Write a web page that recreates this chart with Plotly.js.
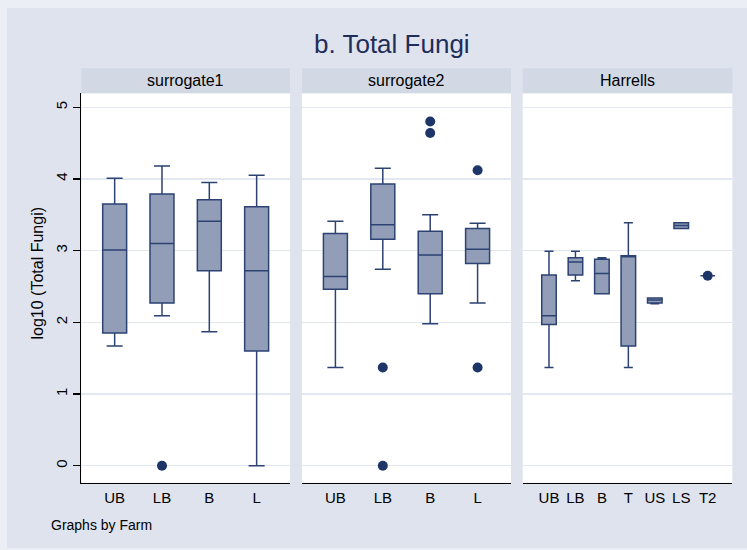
<!DOCTYPE html>
<html>
<head>
<meta charset="utf-8">
<script src="https://cdn.plot.ly/plotly-3.0.1.min.js"></script>
<style>
  html, body { margin: 0; padding: 0; background: #ebeef5; }
  #chart { width: 747px; height: 550px; }
</style>
</head>
<body>
<div id="chart"></div>
<script>
// Farms (one panel each) and the sample sites within them
const farms = ['surrogate1', 'surrogate2', 'Harrells'];
const sites4 = ['UB', 'LB', 'B', 'L'];
const sitesHarrells = ['UB', 'LB', 'B', 'T', 'US', 'LS', 'T2'];

// Box statistics, log10(Total Fungi)
const s1Low = [1.67, 2.09, 1.87, 0.00];
const s1Q1  = [1.85, 2.27, 2.72, 1.60];
const s1Med = [3.01, 3.10, 3.41, 2.72];
const s1Q3  = [3.65, 3.79, 3.71, 3.61];
const s1High = [4.01, 4.18, 3.95, 4.05];
const s1OutX = ['LB'];
const s1OutY = [0.00];

const s2Low = [1.37, 2.74, 1.98, 2.27];
const s2Q1  = [2.46, 3.16, 2.40, 2.82];
const s2Med = [2.64, 3.36, 2.94, 3.02];
const s2Q3  = [3.24, 3.93, 3.27, 3.31];
const s2High = [3.41, 4.15, 3.50, 3.38];
const s2OutX = ['LB', 'LB', 'B', 'B', 'L', 'L'];
const s2OutY = [1.37, 0.00, 4.80, 4.64, 4.12, 1.37];

const hLow = [1.37, 2.58, 2.40, 1.37, 2.26, 3.31, 2.65];
const hQ1  = [1.97, 2.66, 2.40, 1.67, 2.27, 3.31, 2.65];
const hMed = [2.09, 2.84, 2.68, 2.93, 2.31, 3.35, 2.65];
const hQ3  = [2.66, 2.90, 2.88, 2.93, 2.34, 3.39, 2.65];
const hHigh = [2.99, 2.99, 2.90, 3.39, 2.34, 3.39, 2.65];
const hOutX = ['T2'];
const hOutY = [2.65];

const yTicks = [0, 1, 2, 3, 4, 5];

// Styling
const W = 747, H = 550;
const FONT = 'Liberation Sans, Arial, Helvetica, sans-serif';
const boxFill = '#929eb7';
const boxLine = '#2c4273';
const dotColor = '#1d3667';
const gridColor = '#e2e7f0';

// Pixel layout of the three panels
const panelX = [[81.3, 290], [302, 511], [522.7, 732.3]];
const plotTop = 93.3, plotBottom = 482.7, stripTop = 68.3;
const px = v => v / W;
const py = v => 1 - v / H;

function boxTrace(xa, ya, cats, lo, q1, med, q3, hi, width, ww) {
  return {
    type: 'box', xaxis: xa, yaxis: ya,
    x: cats, lowerfence: lo, q1: q1, median: med, q3: q3, upperfence: hi,
    boxpoints: false, width: width, whiskerwidth: ww,
    fillcolor: boxFill, line: { color: boxLine, width: 1.5 },
    hoverinfo: 'skip'
  };
}
function dots(xa, ya, xs, ys) {
  return {
    type: 'scatter', mode: 'markers', xaxis: xa, yaxis: ya,
    x: xs, y: ys, marker: { color: dotColor, size: 10 },
    hoverinfo: 'skip', cliponaxis: false
  };
}

const data = [
  boxTrace('x', 'y', sites4, s1Low, s1Q1, s1Med, s1Q3, s1High, 0.506, 0.67),
  dots('x', 'y', s1OutX, s1OutY),
  boxTrace('x2', 'y2', sites4, s2Low, s2Q1, s2Med, s2Q3, s2High, 0.506, 0.67),
  dots('x2', 'y2', s2OutX, s2OutY),
  boxTrace('x3', 'y3', sitesHarrells, hLow, hQ1, hMed, hQ3, hHigh, 0.55, 0.62),
  dots('x3', 'y3', hOutX, hOutY)
];

function xAxis(i, cats, range) {
  return {
    domain: [px(panelX[i][0]), px(panelX[i][1])],
    anchor: i === 0 ? 'y' : 'y' + (i + 1),
    type: 'category', categoryorder: 'array', categoryarray: cats,
    range: range, showgrid: false, zeroline: false,
    showline: true, linecolor: '#000', linewidth: 1.3,
    ticks: '', ticklabelstandoff: 1,
    tickfont: { family: FONT, size: 15, color: '#000' },
    fixedrange: true
  };
}
function yAxis(i) {
  const a = {
    domain: [py(plotBottom), py(plotTop)],
    anchor: i === 0 ? 'x' : 'x' + (i + 1),
    range: [-0.237, 5.194], tickvals: yTicks,
    showgrid: true, gridcolor: gridColor, gridwidth: 1.3,
    zeroline: false, fixedrange: true
  };
  if (i === 0) {
    Object.assign(a, {
      showline: true, linecolor: '#000', linewidth: 1.3,
      ticks: 'outside', ticklen: 7, tickwidth: 1.3, tickcolor: '#000',
      tickangle: -90, ticklabelstandoff: 0,
      tickfont: { family: FONT, size: 15, color: '#000' }
    });
  } else {
    Object.assign(a, { matches: 'y', showline: false, ticks: '', showticklabels: false });
  }
  return a;
}

// Background regions, plot areas and panel header strips
const shapes = [{
  type: 'rect', xref: 'paper', yref: 'paper', layer: 'below',
  x0: px(7), x1: px(747), y0: py(548), y1: py(8),
  fillcolor: '#dfe3ee', line: { width: 0 }
}];
const annotations = [];
panelX.forEach((p, i) => {
  shapes.push({
    type: 'rect', xref: 'paper', yref: 'paper', layer: 'below',
    x0: px(p[0]), x1: px(p[1]), y0: py(plotBottom), y1: py(plotTop),
    fillcolor: '#ffffff', line: { width: 0 }
  });
  shapes.push({
    type: 'rect', xref: 'paper', yref: 'paper', layer: 'below',
    x0: px(p[0]), x1: px(p[1]), y0: py(plotTop), y1: py(stripTop),
    fillcolor: '#d2d8e4', line: { width: 0 }
  });
  annotations.push({
    xref: 'paper', yref: 'paper', x: px((p[0] + p[1]) / 2), y: py(80.8),
    xanchor: 'center', yanchor: 'middle', showarrow: false,
    text: farms[i], font: { family: FONT, size: 16, color: '#000' }
  });
});
annotations.push({
  xref: 'paper', yref: 'paper', x: px(391.5), y: py(44),
  xanchor: 'center', yanchor: 'middle', showarrow: false,
  text: 'b. Total Fungi', font: { family: FONT, size: 26, color: '#1e2d5a' }
});
annotations.push({
  xref: 'paper', yref: 'paper', x: px(36.5), y: py(273),
  xanchor: 'center', yanchor: 'middle', showarrow: false, textangle: -90,
  text: 'log10 (Total Fungi)', font: { family: FONT, size: 16, color: '#000' }
});
annotations.push({
  xref: 'paper', yref: 'paper', x: px(48.5), y: py(525),
  xanchor: 'left', yanchor: 'middle', showarrow: false,
  text: 'Graphs by Farm', font: { family: FONT, size: 14, color: '#000' }
});

const layout = {
  width: W, height: H,
  margin: { l: 0, r: 0, t: 0, b: 0, pad: 0 },
  paper_bgcolor: '#ebeef5', plot_bgcolor: 'rgba(0,0,0,0)',
  showlegend: false, hovermode: false,
  font: { family: FONT },
  xaxis: xAxis(0, sites4, [-0.705, 3.705]),
  xaxis2: xAxis(1, sites4, [-0.705, 3.705]),
  xaxis3: xAxis(2, sitesHarrells, [-0.994, 6.93]),
  yaxis: yAxis(0), yaxis2: yAxis(1), yaxis3: yAxis(2),
  shapes: shapes, annotations: annotations
};

Plotly.newPlot('chart', data, layout, { displayModeBar: false, staticPlot: true });
</script>
</body>
</html>
